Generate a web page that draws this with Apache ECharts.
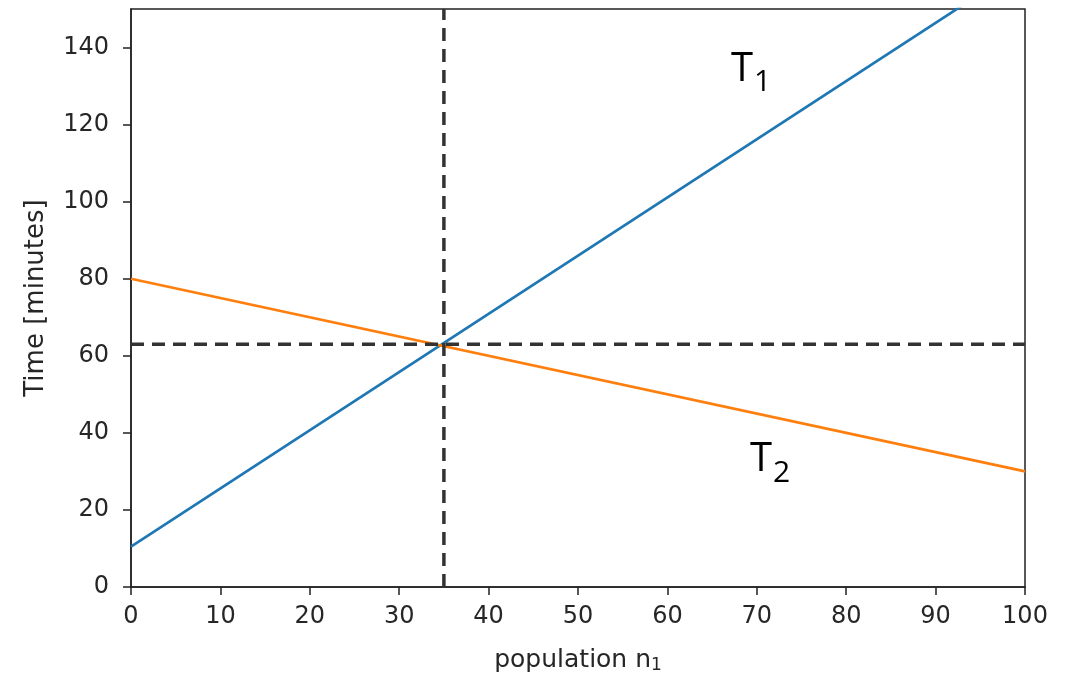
<!DOCTYPE html>
<html>
<head>
<meta charset="utf-8">
<script src="https://cdn.jsdelivr.net/npm/echarts@6/dist/echarts.min.js"></script>
<style>html,body{margin:0;padding:0;background:#fff}#c{width:1073px;height:673px}</style>
</head>
<body>
<div id="c"></div>
<script>
// Data
const population = [0, 100];
const T1 = [10.5, 161.5];   // blue line, clipped at top of axis
const T2 = [80, 30];        // orange line
const crossN = 35;          // vertical dashed line
const crossT = 63;          // horizontal dashed line
const xTicks = [0, 10, 20, 30, 40, 50, 60, 70, 80, 90, 100];
const yTicks = [0, 20, 40, 60, 80, 100, 120, 140];

const chart = echarts.init(document.getElementById('c'), null, {renderer: 'canvas'});
const font = 'DejaVu Sans';
const txt = '#262626';

const option = {
  animation: false,
  backgroundColor: '#fff',
  grid: {left: 131, right: 48, top: 9, bottom: 86, outerBoundsMode: 'none', containLabel: false,
         show: true, borderColor: '#222', borderWidth: 1.5, backgroundColor: 'transparent'},
  xAxis: {
    type: 'value', min: 0, max: 100, interval: 10,
    axisLine: {show: true, onZero: false, lineStyle: {color: '#222', width: 1.5}},
    axisTick: {show: true, length: 8, lineStyle: {color: '#222', width: 1.5}, customValues: xTicks},
    axisLabel: {fontFamily: font, fontSize: 24, color: txt, margin: 18, customValues: xTicks},
    splitLine: {show: false},
    name: '{a|population n}{s|1}',
    nameLocation: 'middle', nameGap: 60,
    nameTextStyle: {rich: {a: {fontFamily: font, fontSize: 25, color: txt}, s: {fontFamily: font, fontSize: 17, color: txt, verticalAlign: 'bottom', padding: [10, 0, 0, 0]}}}
  },
  yAxis: {
    type: 'value', min: 0, max: 150, interval: 20,
    axisLine: {show: true, onZero: false, lineStyle: {color: '#222', width: 1.5}},
    axisTick: {show: true, length: 8, lineStyle: {color: '#222', width: 1.5}, customValues: yTicks},
    axisLabel: {fontFamily: font, fontSize: 24, color: txt, margin: 22, customValues: yTicks},
    splitLine: {show: false},
    name: 'Time [minutes]',
    nameLocation: 'middle', nameGap: 82,
    nameTextStyle: {fontFamily: font, fontSize: 26, color: txt}
  },
  series: [
    {
      type: 'line', name: 'T1', data: population.map((n, i) => [n, T1[i]]),
      showSymbol: false, clip: true,
      lineStyle: {color: '#1f77b4', width: 2.7}, z: 3
    },
    {
      type: 'line', name: 'T2', data: population.map((n, i) => [n, T2[i]]),
      showSymbol: false, clip: true,
      lineStyle: {color: '#ff7f0e', width: 2.7}, z: 3
    },
    {
      type: 'line', name: 'vline', data: [[crossN, 0], [crossN, 150]],
      showSymbol: false, clip: true,
      lineStyle: {color: '#333', width: 3.5, type: [13, 8]}, z: 4
    },
    {
      type: 'line', name: 'hline', data: [[0, crossT], [100, crossT]],
      showSymbol: false, clip: true,
      lineStyle: {color: '#333', width: 3.5, type: [13, 8]}, z: 4
    }
  ],
  graphic: [
    {type: 'text', left: 731, top: 50, style: {text: 'T', fontFamily: 'Open Sans', fontSize: 40, fill: '#000'}},
    {type: 'text', left: 754, top: 67, style: {text: '1', fontFamily: 'Open Sans', fontSize: 30, fill: '#000'}},
    {type: 'text', left: 750, top: 440, style: {text: 'T', fontFamily: 'Open Sans', fontSize: 40, fill: '#000'}},
    {type: 'text', left: 773, top: 458, style: {text: '2', fontFamily: 'Open Sans', fontSize: 30, fill: '#000'}}
  ]
};
chart.setOption(option);
</script>
</body>
</html>
